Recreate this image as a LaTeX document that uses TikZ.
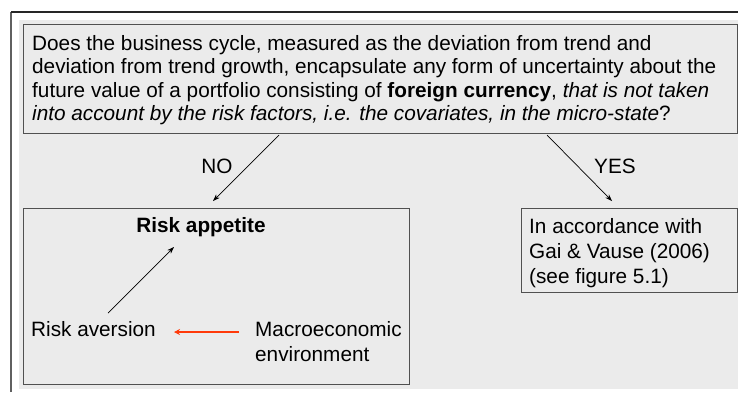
\documentclass[tikz,border=0pt]{standalone}
\usepackage{fontspec}
\setmainfont{Liberation Sans}
\usetikzlibrary{arrows.meta}
\definecolor{bggray}{HTML}{EBEBEB}
\definecolor{boxline}{HTML}{505050}
\definecolor{frameline}{HTML}{606060}
\definecolor{redarrow}{HTML}{FF3A0A}
\begin{document}
\begin{tikzpicture}[x=1pt,y=-1pt,
  txt/.style={inner sep=0pt,font=\fontsize{20.75}{23.5}\selectfont},
  ln/.style={txt,anchor=base west},
  boxnode/.style={draw=boxline,line width=1.1pt,fill=bggray,inner sep=0pt,anchor=north west},
  arr/.style={draw=black,line width=0.7pt,-{Stealth[length=7pt,width=5pt]}},
  redarr/.style={draw=redarrow,line width=1.8pt,-{Stealth[length=6pt,width=6pt]}}]
\useasboundingbox (0,0) rectangle (738,392);
\fill[white] (0,0) rectangle (738,392);
% background panel and frame
\fill[bggray] (19,20) rectangle (738,389);
\draw[frameline,line width=1.6pt] (11,392) -- (11,12);
\draw[black!85,line width=1.1pt] (11,12) -- (738,12);
% boxes
\node[boxnode,minimum width=714pt,minimum height=109pt] (q) at (23,24) {};
\node[boxnode,minimum width=386pt,minimum height=176pt] (left) at (23,208) {};
\node[boxnode,minimum width=216pt,minimum height=84pt] (right) at (521,208) {};
% question text
\node[ln] (q1) at (32,50) {Does the business cycle, measured as the deviation from trend and};
\node[ln] (q2) at (32,73.5) {deviation from trend growth, encapsulate any form of uncertainty about the};
\node[ln] (q3) at (32,97) {future value of a portfolio consisting of \textbf{foreign currency}, \textit{that is not taken}};
\node[ln] (q4) at (32,120.5) {\textit{into account by the risk factors, i.e. the covariates, in the micro-state}?};
% branch labels
\node[txt] (no) at (217,166) {NO};
\node[txt] (yes) at (615,166) {YES};
% left box content
\node[txt,anchor=base,font=\fontsize{20.75}{23.5}\selectfont\bfseries] (ra) at (201,232) {Risk appetite};
\node[ln] (rav) at (31,336) {Risk aversion};
\node[ln] (me1) at (255,336) {Macroeconomic};
\node[ln] (me2) at (255,361.5) {environment};
% right box content
\node[ln] (g1) at (529,233) {In accordance with};
\node[ln] (g2) at (529,258) {Gai \& Vause (2006)};
\node[ln] (g3) at (529,283) {(see figure 5.1)};
% connector end points
\coordinate (noS) at (279,135);
\coordinate (noE) at (213,201);
\coordinate (yesS) at (547,135);
\coordinate (yesE) at (612,201);
\coordinate (raS) at (108,313);
\coordinate (raE) at (174,247);
\coordinate (meS) at (239,332);
\coordinate (meE) at (174,332);
\draw[arr] (noS) -- (noE);
\draw[arr] (yesS) -- (yesE);
\draw[arr] (raS) -- (raE);
\draw[redarr] (meS) -- (meE);
\end{tikzpicture}
\end{document}
